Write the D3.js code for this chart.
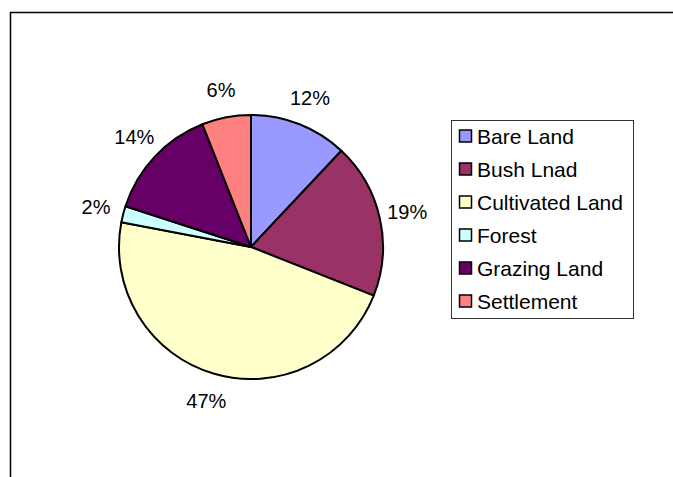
<!DOCTYPE html>
<html>
<head>
<meta charset="utf-8">
<script src="https://cdn.jsdelivr.net/npm/d3@7/dist/d3.min.js"></script>
<style>
  html, body { margin: 0; padding: 0; background: #fff; }
  svg text { font-family: Arial, "Liberation Sans", sans-serif; fill: #000; }
</style>
</head>
<body>
<svg id="chart" width="673" height="477"></svg>
<script>
var categories = ["Bare Land", "Bush Lnad", "Cultivated Land", "Forest", "Grazing Land", "Settlement"];
var shares = [12, 19, 47, 2, 14, 6];
var colours = ["#9999FF", "#993366", "#FFFFCC", "#CCFFFF", "#660066", "#FF8080"];

var svg = d3.select("#chart");
var width = +svg.attr("width"), height = +svg.attr("height");

// chart frame (only top and left edges show in the picture)
svg.append("path")
    .attr("d", "M10.5," + height + "V12.5H" + width)
    .attr("fill", "none")
    .attr("stroke", "#000")
    .attr("stroke-width", 1.5);

var cx = 251, cy = 247, radius = 132;

var data = categories.map(function (c, i) {
    return {name: c, value: shares[i]};
});

var color = d3.scaleOrdinal().domain(categories).range(colours);

var pie = d3.pie()
    .sort(null)
    .value(function (d) { return d.value; });

var arc = d3.arc().innerRadius(0).outerRadius(radius);
var labelArc = d3.arc().innerRadius(160).outerRadius(160);

var g = svg.append("g")
    .attr("transform", "translate(" + cx + "," + cy + ")");

var arcs = pie(data);

g.selectAll("path.slice")
    .data(arcs)
    .enter().append("path")
    .attr("class", "slice")
    .attr("d", arc)
    .attr("fill", function (d) { return color(d.data.name); })
    .attr("stroke", "#000")
    .attr("stroke-width", 2)
    .attr("stroke-linejoin", "round");

var total = d3.sum(shares);
g.selectAll("text.label")
    .data(arcs)
    .enter().append("text")
    .attr("class", "label")
    .attr("transform", function (d) { return "translate(" + labelArc.centroid(d) + ")"; })
    .attr("text-anchor", "middle")
    .attr("dy", "0.35em")
    .style("font-size", "20px")
    .text(function (d) { return Math.round(d.data.value / total * 100) + "%"; });

// legend
var legend = svg.append("g").attr("transform", "translate(451,120)");

legend.append("rect")
    .attr("x", 0.5).attr("y", 0.5)
    .attr("width", 182).attr("height", 198)
    .attr("fill", "#fff")
    .attr("stroke", "#333")
    .attr("stroke-width", 1);

var item = legend.selectAll("g.item")
    .data(categories)
    .enter().append("g")
    .attr("class", "item")
    .attr("transform", function (d, i) { return "translate(0," + (16 + i * 33) + ")"; });

item.append("rect")
    .attr("x", 8.5).attr("y", -6)
    .attr("width", 12).attr("height", 12)
    .attr("fill", function (d) { return color(d); })
    .attr("stroke", "#000")
    .attr("stroke-width", 1.5);

item.append("text")
    .attr("x", 26)
    .attr("dy", "0.36em")
    .style("font-size", "21px")
    .text(function (d) { return d; });
</script>
</body>
</html>
